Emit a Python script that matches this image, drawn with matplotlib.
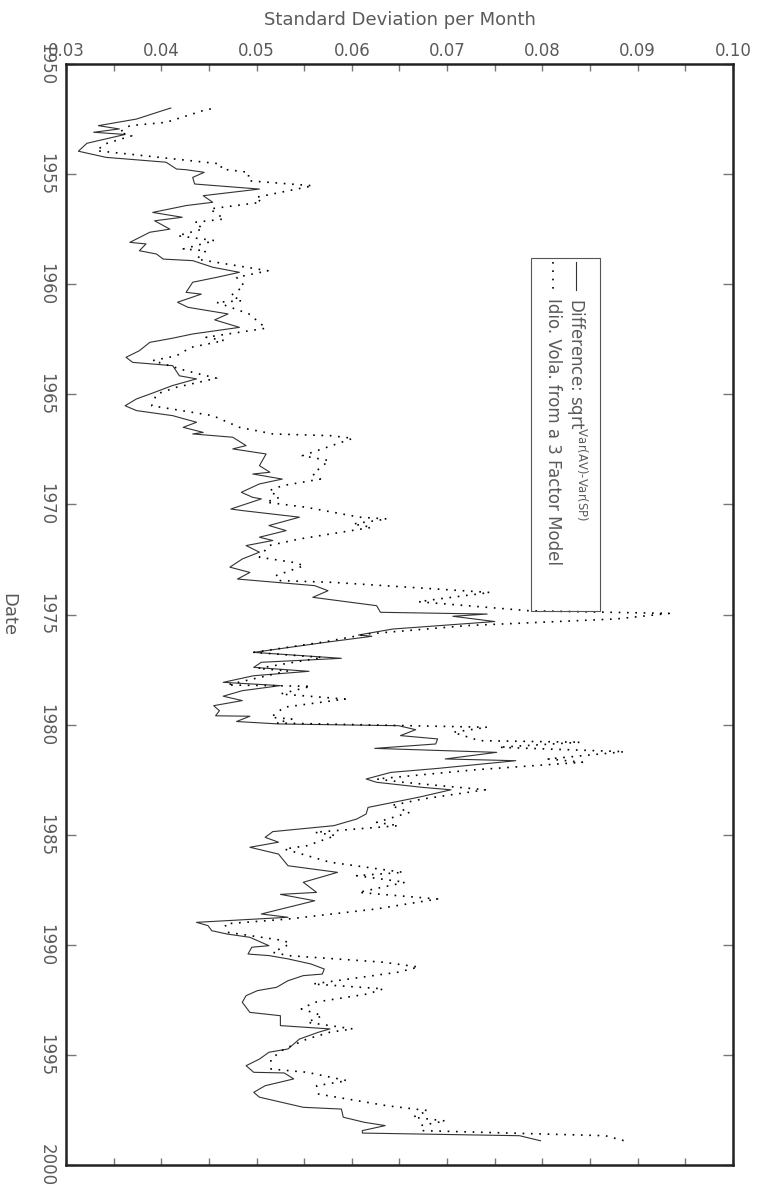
import matplotlib
matplotlib.use("Agg")
import matplotlib.pyplot as plt
from matplotlib.patches import Rectangle
from matplotlib.lines import Line2D
from matplotlib.ticker import MultipleLocator, FormatStrFormatter

plt.rcParams.update({"font.family": "DejaVu Sans", "mathtext.fontset": "dejavusans"})

# ---- data (date, monthly std. dev.) ----
diff_year = [
    1952.00, 1952.08, 1952.50, 1952.80, 1952.95, 1953.10, 1953.20, 1953.60, 1953.96, 1954.24,
    1954.46, 1954.77, 1954.80, 1954.92, 1955.15, 1955.45, 1955.68, 1955.98, 1956.28, 1956.43,
    1956.74, 1956.96, 1957.12, 1957.50, 1957.64, 1958.10, 1958.17, 1958.48, 1958.63, 1958.86,
    1958.93, 1959.23, 1959.46, 1959.69, 1959.91, 1960.37, 1960.45, 1960.82, 1961.05, 1961.35,
    1961.62, 1961.96, 1962.26, 1962.46, 1962.64, 1963.02, 1963.32, 1963.55, 1963.70, 1964.16,
    1964.30, 1964.60, 1964.99, 1965.21, 1965.52, 1965.74, 1965.97, 1966.27, 1966.50, 1966.73,
    1966.80, 1966.95, 1967.33, 1967.48, 1967.71, 1968.24, 1968.54, 1968.62, 1968.85, 1969.07,
    1969.45, 1969.68, 1969.75, 1970.21, 1970.28, 1970.58, 1970.96, 1971.19, 1971.49, 1971.64,
    1971.87, 1972.17, 1972.48, 1972.85, 1973.09, 1973.39, 1973.69, 1973.92, 1974.22, 1974.60,
    1974.90, 1974.98, 1975.08, 1975.32, 1975.66, 1975.93, 1975.99, 1976.26, 1976.72, 1976.99,
    1977.17, 1977.40, 1977.58, 1977.78, 1978.08, 1978.23, 1978.46, 1978.71, 1978.91, 1979.14,
    1979.37, 1979.60, 1979.62, 1979.86, 1979.97, 1980.05, 1980.23, 1980.50, 1980.65, 1980.88,
    1981.08, 1981.26, 1981.56, 1981.64, 1981.99, 1982.17, 1982.47, 1982.62, 1982.85, 1982.96,
    1983.30, 1983.76, 1984.06, 1984.29, 1984.59, 1984.86, 1985.12, 1985.34, 1985.57, 1985.88,
    1986.41, 1986.71, 1987.16, 1987.62, 1987.71, 1988.00, 1988.60, 1988.75, 1988.98, 1989.13,
    1989.36, 1989.51, 1989.66, 1990.04, 1990.11, 1990.42, 1990.49, 1990.64, 1990.87, 1991.10,
    1991.33, 1991.40, 1991.63, 1991.93, 1992.08, 1992.31, 1992.61, 1993.07, 1993.22, 1993.67,
    1993.82, 1993.97, 1994.28, 1994.73, 1994.88, 1995.19, 1995.49, 1995.79, 1995.82, 1996.09,
    1996.40, 1996.70, 1996.92, 1997.38, 1997.46, 1997.83, 1998.06, 1998.21, 1998.44, 1998.55,
    1998.67, 1998.90,
]
diff_sd = [
    0.0410, 0.0404, 0.0374, 0.0334, 0.0356, 0.0329, 0.0362, 0.0322, 0.0313, 0.0342,
    0.0405, 0.0416, 0.0426, 0.0445, 0.0433, 0.0435, 0.0503, 0.0444, 0.0454, 0.0426,
    0.0391, 0.0422, 0.0393, 0.0409, 0.0388, 0.0367, 0.0384, 0.0377, 0.0395, 0.0402,
    0.0433, 0.0454, 0.0482, 0.0458, 0.0433, 0.0426, 0.0442, 0.0417, 0.0428, 0.0470,
    0.0456, 0.0482, 0.0433, 0.0411, 0.0388, 0.0377, 0.0363, 0.0370, 0.0412, 0.0419,
    0.0437, 0.0412, 0.0388, 0.0374, 0.0362, 0.0374, 0.0412, 0.0437, 0.0423, 0.0444,
    0.0433, 0.0475, 0.0489, 0.0475, 0.0510, 0.0503, 0.0514, 0.0496, 0.0527, 0.0503,
    0.0484, 0.0496, 0.0505, 0.0473, 0.0485, 0.0545, 0.0513, 0.0531, 0.0503, 0.0517,
    0.0489, 0.0503, 0.0485, 0.0472, 0.0493, 0.0480, 0.0561, 0.0575, 0.0559, 0.0626,
    0.0630, 0.0742, 0.0706, 0.0750, 0.0643, 0.0607, 0.0621, 0.0573, 0.0497, 0.0589,
    0.0505, 0.0497, 0.0555, 0.0497, 0.0465, 0.0525, 0.0485, 0.0465, 0.0485, 0.0455,
    0.0461, 0.0457, 0.0493, 0.0479, 0.0523, 0.0649, 0.0667, 0.0651, 0.0690, 0.0688,
    0.0624, 0.0752, 0.0698, 0.0772, 0.0690, 0.0641, 0.0615, 0.0626, 0.0674, 0.0704,
    0.0670, 0.0617, 0.0615, 0.0605, 0.0581, 0.0517, 0.0509, 0.0523, 0.0493, 0.0523,
    0.0533, 0.0585, 0.0549, 0.0563, 0.0525, 0.0561, 0.0505, 0.0533, 0.0437, 0.0449,
    0.0453, 0.0469, 0.0493, 0.0513, 0.0495, 0.0491, 0.0513, 0.0533, 0.0557, 0.0571,
    0.0569, 0.0549, 0.0533, 0.0521, 0.0501, 0.0489, 0.0485, 0.0493, 0.0525, 0.0525,
    0.0577, 0.0565, 0.0545, 0.0533, 0.0513, 0.0503, 0.0489, 0.0497, 0.0529, 0.0539,
    0.0509, 0.0497, 0.0503, 0.0549, 0.0589, 0.0591, 0.0613, 0.0635, 0.0611, 0.0611,
    0.0776, 0.0798,
]

idio_year = [
    1952.04, 1952.10, 1952.65, 1952.80, 1953.10, 1953.26, 1953.63, 1953.94, 1954.00, 1954.54,
    1954.77, 1954.92, 1955.30, 1955.53, 1956.06, 1956.28, 1956.58, 1957.04, 1957.19, 1957.49,
    1957.80, 1958.02, 1958.40, 1958.48, 1958.86, 1959.39, 1959.69, 1960.07, 1960.52, 1960.75,
    1960.82, 1961.35, 1962.00, 1962.41, 1962.56, 1962.87, 1963.25, 1963.47, 1963.93, 1964.27,
    1964.68, 1964.99, 1965.52, 1965.97, 1966.50, 1966.80, 1966.88, 1967.00, 1967.48, 1967.79,
    1968.01, 1968.62, 1968.85, 1969.15, 1969.38, 1969.68, 1969.90, 1970.13, 1970.58, 1970.66,
    1970.89, 1971.04, 1971.57, 1971.87, 1972.40, 1972.63, 1972.78, 1973.24, 1973.46, 1973.54,
    1974.00, 1974.30, 1974.42, 1974.83, 1974.95, 1975.20, 1975.50, 1975.88, 1976.23, 1976.72,
    1976.95, 1977.45, 1977.56, 1978.20, 1978.26, 1978.61, 1978.84, 1979.21, 1979.67, 1979.75,
    1979.93, 1980.12, 1980.35, 1980.73, 1980.80, 1981.03, 1981.23, 1981.56, 1981.71, 1982.05,
    1982.47, 1982.62, 1982.96, 1983.38, 1983.68, 1983.98, 1984.44, 1984.59, 1984.89, 1985.04,
    1985.50, 1985.65, 1986.25, 1986.71, 1986.86, 1987.16, 1987.62, 1987.92, 1988.37, 1988.83,
    1989.05, 1989.43, 1989.81, 1989.96, 1990.34, 1990.49, 1990.79, 1991.01, 1991.24, 1991.78,
    1992.00, 1992.23, 1992.61, 1992.91, 1993.22, 1993.52, 1993.82, 1993.97, 1994.28, 1994.73,
    1995.19, 1995.64, 1995.79, 1996.17, 1996.40, 1996.78, 1997.31, 1997.53, 1997.83, 1998.00,
    1998.21, 1998.44, 1998.67, 1998.90,
]
idio_sd = [
    0.0452, 0.0445, 0.0405, 0.0367, 0.0356, 0.0369, 0.0341, 0.0332, 0.0346, 0.0463,
    0.0463, 0.0492, 0.0491, 0.0559, 0.0499, 0.0505, 0.0451, 0.0466, 0.0435, 0.0444,
    0.0417, 0.0456, 0.0423, 0.0447, 0.0437, 0.0512, 0.0479, 0.0487, 0.0473, 0.0485,
    0.0458, 0.0492, 0.0510, 0.0447, 0.0466, 0.0431, 0.0416, 0.0391, 0.0426, 0.0458,
    0.0416, 0.0395, 0.0390, 0.0454, 0.0482, 0.0517, 0.0578, 0.0601, 0.0569, 0.0548,
    0.0576, 0.0559, 0.0567, 0.0527, 0.0513, 0.0524, 0.0510, 0.0552, 0.0608, 0.0637,
    0.0601, 0.0621, 0.0545, 0.0513, 0.0503, 0.0538, 0.0550, 0.0520, 0.0524, 0.0580,
    0.0745, 0.0690, 0.0670, 0.0786, 0.0933, 0.0878, 0.0722, 0.0617, 0.0573, 0.0497,
    0.0569, 0.0501, 0.0533, 0.0469, 0.0557, 0.0525, 0.0593, 0.0529, 0.0515, 0.0537,
    0.0521, 0.0742, 0.0706, 0.0734, 0.0840, 0.0754, 0.0886, 0.0806, 0.0842, 0.0730,
    0.0626, 0.0654, 0.0740, 0.0674, 0.0641, 0.0661, 0.0626, 0.0649, 0.0561, 0.0583,
    0.0553, 0.0529, 0.0577, 0.0654, 0.0605, 0.0656, 0.0607, 0.0690, 0.0626, 0.0533,
    0.0467, 0.0469, 0.0529, 0.0535, 0.0517, 0.0533, 0.0633, 0.0670, 0.0649, 0.0559,
    0.0633, 0.0617, 0.0561, 0.0547, 0.0569, 0.0553, 0.0601, 0.0577, 0.0553, 0.0529,
    0.0515, 0.0515, 0.0553, 0.0595, 0.0563, 0.0565, 0.0637, 0.0680, 0.0664, 0.0698,
    0.0672, 0.0674, 0.0866, 0.0886,
]

TXT = "#5a5a5a"
W, H = 761, 1193

fig = plt.figure(figsize=(W / 100, H / 100), dpi=100)
ax = fig.add_axes([66 / W, 1 - 1165 / H, (733 - 66) / W, (1165 - 64) / H])

ax.plot(diff_sd, diff_year, color="#333333", lw=0.8)
ax.plot(idio_sd, idio_year, color="black", lw=1.2, ls=(0, (1, 4)))

ax.set_xlim(0.03, 0.10)
ax.set_ylim(2000, 1950)
ax.xaxis.set_major_locator(MultipleLocator(0.01))
ax.xaxis.set_minor_locator(MultipleLocator(0.005))
ax.xaxis.set_major_formatter(FormatStrFormatter("%.2f"))
ax.yaxis.set_major_locator(MultipleLocator(5))
ax.tick_params(axis="x", which="both", direction="in", top=True, bottom=True,
               labeltop=True, labelbottom=False, length=5, width=1, color="#777777",
               pad=3, labelsize=12, labelcolor=TXT)
ax.tick_params(axis="y", direction="in", left=True, right=True, length=7, width=1,
               color="#777777", pad=14, labelsize=12, labelcolor=TXT, labelrotation=-90)
for lab in ax.get_yticklabels():
    lab.set_ha("center")
    lab.set_va("center")
for s in ax.spines.values():
    s.set_linewidth(1.8)
    s.set_color("#222222")

fig.text(399.5 / W, 1 - 20 / H, "Standard Deviation per Month", ha="center", va="center",
         fontsize=13, color=TXT)
fig.text(8 / W, 1 - 615 / H, "Date", rotation=-90, ha="center", va="center",
         fontsize=13, color=TXT)

# ---- rotated legend drawn by hand ----
fig.add_artist(Rectangle((531 / W, 1 - 611 / H), 69 / W, 353 / H, transform=fig.transFigure,
                         fill=False, edgecolor="#555555", lw=0.8))
fig.add_artist(Line2D([576 / W, 576 / W], [1 - 262 / H, 1 - 290 / H], transform=fig.transFigure,
                      color="#333333", lw=0.8))
fig.add_artist(Line2D([553 / W, 553 / W], [1 - 262 / H, 1 - 290 / H], transform=fig.transFigure,
                      color="black", lw=1.2, ls=(0, (1, 4))))
fig.text(577 / W, 1 - 298 / H, "Difference: sqrt$^{\\mathrm{Var(AV)\u2010Var(SP)}}$", rotation=-90,
         ha="center", va="top", fontsize=12, color=TXT)
fig.text(553 / W, 1 - 298 / H, "Idio. Vola. from a 3 Factor Model", rotation=-90,
         ha="center", va="top", fontsize=12, color=TXT)

fig.savefig("out.png", dpi=100)
